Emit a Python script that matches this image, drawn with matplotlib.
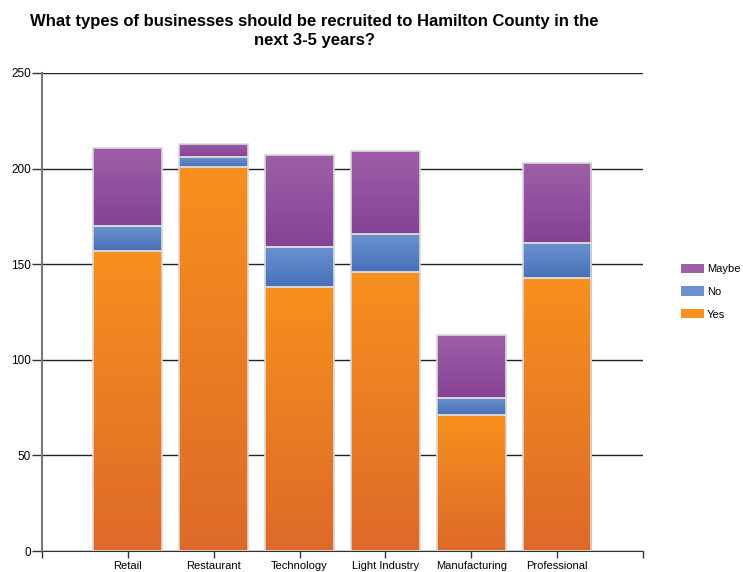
import numpy as np
import matplotlib
matplotlib.use("Agg")
import matplotlib.pyplot as plt
from matplotlib.colors import LinearSegmentedColormap
from matplotlib.patches import Patch

plt.rcParams['font.family'] = ['Liberation Sans', 'DejaVu Sans']

categories = ["Retail", "Restaurant", "Technology", "Light Industry", "Manufacturing", "Professional"]
yes = [157, 201, 138, 146, 71, 143]
no = [13, 5, 21, 20, 9, 18]
maybe = [41, 7, 48, 43, 33, 42]

# (top colour, bottom colour) for the vertical gradient on each segment
series = [
    ("Yes", yes, "#f7901e", "#dd6a29"),
    ("No", no, "#6b92cf", "#4770b9"),
    ("Maybe", maybe, "#9e5fa7", "#864295"),
]

fig = plt.figure(figsize=(7.43, 5.72), dpi=100)
ax = fig.add_axes([0.0565, 0.0367, 0.8089, 0.8357])

x = np.arange(len(categories))
bottom = np.zeros(len(categories))
grad = np.linspace(0, 1, 256).reshape(-1, 1)
for name, vals, c_top, c_bot in series:
    bars = ax.bar(x, vals, width=0.8, bottom=bottom, facecolor="none",
                  edgecolor="#d9d9d9", linewidth=1.2, zorder=3)
    cmap = LinearSegmentedColormap.from_list(name, [c_bot, c_top])
    for p in bars.patches:
        x0, y0 = p.get_x(), p.get_y()
        w, h = p.get_width(), p.get_height()
        im = ax.imshow(grad, cmap=cmap, origin="lower", aspect="auto",
                       extent=[x0, x0 + w, y0, y0 + h], zorder=2.5)
        im.set_clip_path(p)
    bottom += np.array(vals)

ax.set_xlim(-1, 6)
ax.set_ylim(0, 250)
ax.set_yticks(np.arange(0, 251, 50))
ax.set_xticks(x)
ax.set_xticklabels(categories, fontsize=8)
ax.set_xticks([-1, 6], minor=True)
ax.tick_params(axis="x", which="both", length=5, width=1, color="#333333", pad=2)
ax.tick_params(axis="y", length=7, width=1, color="#333333", labelsize=8.5, pad=1)
ax.grid(axis="y", color="#222222", linewidth=1, zorder=1)
ax.set_axisbelow(True)

for s in ["top", "right"]:
    ax.spines[s].set_visible(False)
ax.spines["left"].set_color("#777777")
ax.spines["left"].set_linewidth(1.5)
ax.spines["bottom"].set_color("#333333")

fig.text(0.423, 0.975, "What types of businesses should be recruited to Hamilton County in the\nnext 3-5 years?",
         ha="center", va="top", fontsize=12, fontweight="bold", linespacing=1.3)

handles = [Patch(facecolor=c_top, edgecolor="none") for _, _, c_top, _ in series][::-1]
labels = [s[0] for s in series][::-1]
fig.legend(handles, labels, loc="center left", bbox_to_anchor=(0.917, 0.49),
           frameon=False, fontsize=8, handlelength=2.0, handleheight=0.9,
           labelspacing=1.1, handletextpad=0.3, borderpad=0, borderaxespad=0)

fig.savefig("out.png", dpi=100)
